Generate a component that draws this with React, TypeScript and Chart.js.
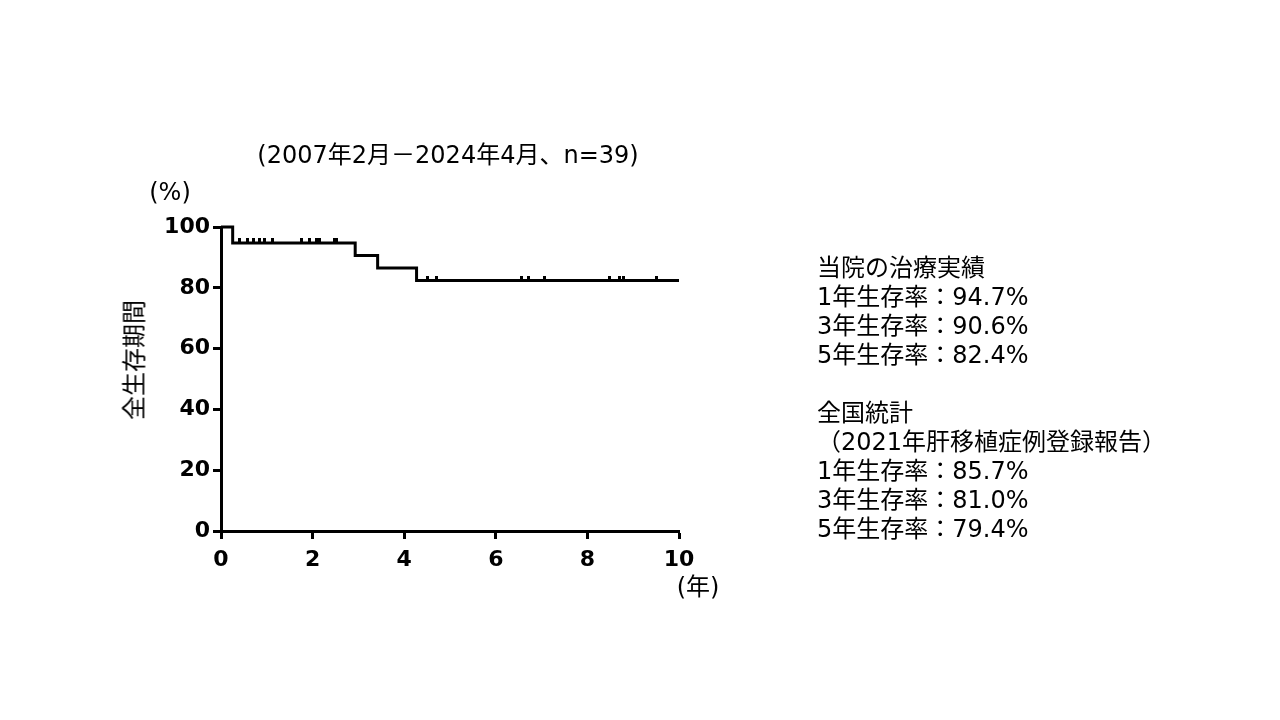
import React, { useEffect, useRef } from "react";
import { Chart, registerables } from "chart.js";

Chart.register(...registerables);

// Kaplan–Meier steps (years, % survival)
const stepTimes = [0, 0.255, 2.93, 3.42, 4.27, 10];
const stepSurvival = [100, 94.7, 90.6, 86.5, 82.4, 82.4];

// Censored observations
const censorTimes = [
  0.41, 0.57, 0.72, 0.85, 0.94, 1.12, 1.76, 1.93, 2.09, 2.15, 2.47, 2.53,
  4.51, 4.7, 6.57, 6.71, 7.07, 8.49, 8.71, 8.78, 9.51,
];
const censorSurvival = [
  94.7, 94.7, 94.7, 94.7, 94.7, 94.7, 94.7, 94.7, 94.7, 94.7, 94.7, 94.7,
  82.4, 82.4, 82.4, 82.4, 82.4, 82.4, 82.4, 82.4, 82.4,
];

const xTickValues = [0, 2, 4, 6, 8, 10];
const yTickValues = [0, 20, 40, 60, 80, 100];

const titleText = "(2007年2月－2024年4月、n=39)";
const yUnitText = "(%)";
const xUnitText = "(年)";
const yAxisTitle = "全生存期間";
const sideLines = [
  "当院の治療実績",
  "1年生存率：94.7%",
  "3年生存率：90.6%",
  "5年生存率：82.4%",
  "",
  "全国統計",
  "（2021年肝移植症例登録報告）",
  "1年生存率：85.7%",
  "3年生存率：81.0%",
  "5年生存率：79.4%",
];

const textFont = '"DejaVu Sans", "Noto Sans CJK JP", sans-serif';

export default function App() {
  const canvasRef = useRef<HTMLCanvasElement | null>(null);

  useEffect(() => {
    const canvas = canvasRef.current;
    if (!canvas) return;

    // censor tick mark: short vertical stroke above the curve
    const mark = document.createElement("canvas");
    mark.width = 3;
    mark.height = 10;
    const mctx = mark.getContext("2d")!;
    mctx.fillStyle = "#000";
    mctx.fillRect(0, 0, 3, 5);

    const chart = new Chart(canvas, {
      type: "line",
      data: {
        datasets: [
          {
            label: "KM",
            data: stepTimes.map((t, i) => ({ x: t, y: stepSurvival[i] })),
            borderColor: "#000",
            borderWidth: 3,
            stepped: "before",
            pointRadius: 0,
            fill: false,
            clip: false as any,
          },
          {
            label: "censor",
            data: censorTimes.map((t, i) => ({ x: t, y: censorSurvival[i] })),
            showLine: false,
            pointStyle: mark as any,
            pointRadius: 5,
            clip: false as any,
          },
        ],
      },
      options: {
        animation: false,
        responsive: false,
        devicePixelRatio: 1,
        layout: { padding: { left: 161, right: 601, top: 227, bottom: 139 } },
        plugins: { legend: { display: false }, tooltip: { enabled: false } },
        scales: {
          x: {
            type: "linear",
            min: 0,
            max: 10,
            afterFit: (s: any) => {
              s.height = 50;
            },
            afterBuildTicks: (s: any) => {
              s.ticks = xTickValues.map((v) => ({ value: v }));
            },
            ticks: {
              color: "#000",
              font: { family: "DejaVu Sans", size: 22, weight: "bold" },
              padding: 8,
              maxRotation: 0,
            },
            grid: {
              display: true,
              drawOnChartArea: false,
              drawTicks: true,
              tickLength: 8,
              tickWidth: 3,
              tickColor: "#000",
            },
            border: { display: true, color: "#000", width: 3 },
          },
          y: {
            type: "linear",
            min: 0,
            max: 100,
            afterFit: (s: any) => {
              s.width = 60;
            },
            afterBuildTicks: (s: any) => {
              s.ticks = yTickValues.map((v) => ({ value: v }));
            },
            ticks: {
              color: "#000",
              font: { family: "DejaVu Sans", size: 22, weight: "bold" },
              padding: 3,
            },
            grid: {
              display: true,
              drawOnChartArea: false,
              drawTicks: true,
              tickLength: 8,
              tickWidth: 3,
              tickColor: "#000",
            },
            border: { display: true, color: "#000", width: 3 },
          },
        },
      },
    });

    return () => chart.destroy();
  }, []);

  const base: React.CSSProperties = {
    position: "absolute",
    fontFamily: textFont,
    fontSize: 24,
    color: "#000",
    whiteSpace: "nowrap",
    lineHeight: "29px",
  };

  return (
    <div
      style={{
        position: "absolute",
        left: 0,
        top: 0,
        width: 1280,
        height: 720,
        background: "#fff",
        overflow: "hidden",
      }}
    >
      <canvas
        ref={canvasRef}
        width={1280}
        height={720}
        style={{ position: "absolute", left: 0, top: 0, width: 1280, height: 720 }}
      />
      <div style={{ ...base, left: 448, top: 155, transform: "translate(-50%, -50%)" }}>
        {titleText}
      </div>
      <div style={{ ...base, left: 170, top: 192, transform: "translate(-50%, -50%)" }}>
        {yUnitText}
      </div>
      <div style={{ ...base, left: 698, top: 587, transform: "translate(-50%, -50%)" }}>
        {xUnitText}
      </div>
      <div
        style={{
          ...base,
          left: 135,
          top: 360,
          transform: "translate(-50%, -50%) rotate(-90deg)",
        }}
      >
        {yAxisTitle}
      </div>
      <div style={{ ...base, left: 817, top: 253.5 }}>
        {sideLines.map((l, i) => (
          <div key={i} style={{ height: 29 }}>
            {l}
          </div>
        ))}
      </div>
    </div>
  );
}
